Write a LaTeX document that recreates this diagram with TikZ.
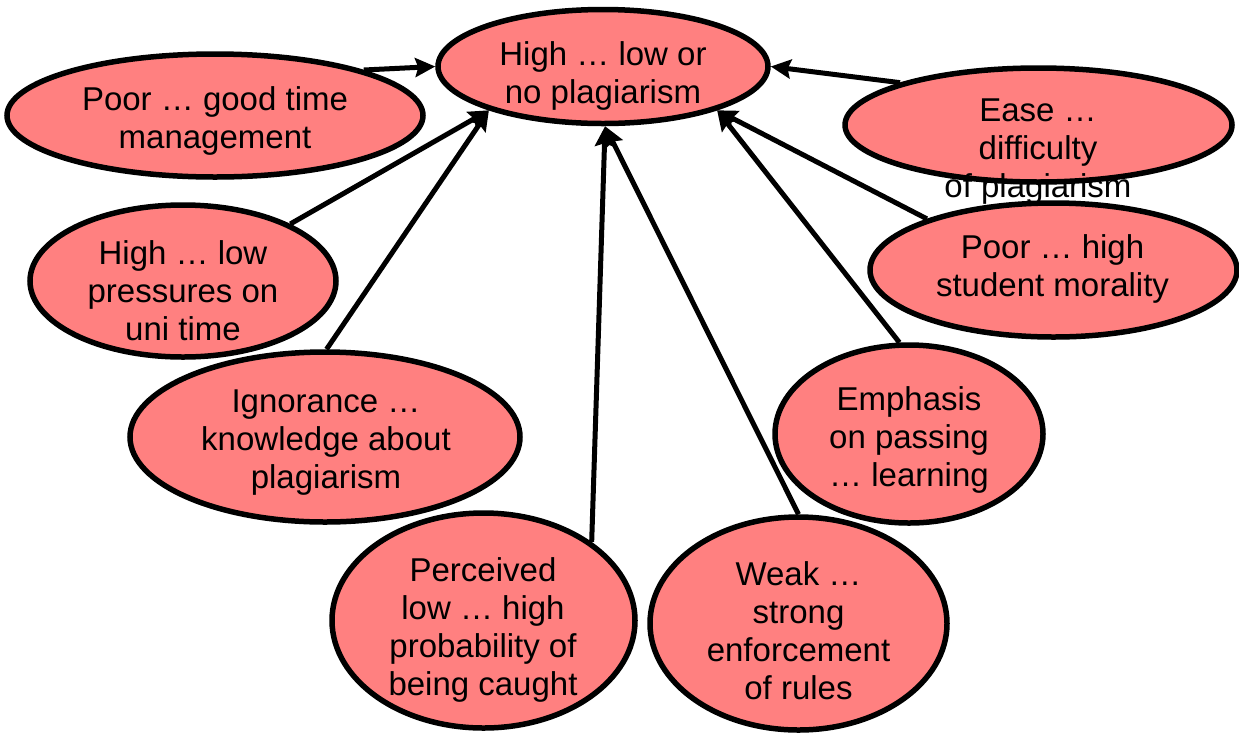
\documentclass[tikz,border=0pt]{standalone}
\usepackage{fontspec}
\setmainfont{Liberation Sans}
\usetikzlibrary{shapes.geometric,arrows.meta}
\definecolor{blobfill}{RGB}{255,128,128}
\begin{document}
\begin{tikzpicture}[x=1pt,y=-1pt,
  blob/.style={ellipse,draw=black,line width=5.5pt,fill=blobfill,inner sep=0pt},
  txt/.style={align=center,inner sep=0pt,font=\fontsize{33}{38}\selectfont},
  link/.style={line width=5pt,-{Stealth[length=20pt,width=19pt,inset=3pt]}}]
\useasboundingbox (0,0) rectangle (1239,732);

% central outcome
\node[blob,minimum width=330pt,minimum height=114pt] (out) at (603,66.5) {};
\node[txt] (out-t) at (603,75.5) {High … low or\\no plagiarism};

% left-hand factors
\node[blob,minimum width=416pt,minimum height=123pt] (time) at (215,115.5) {};
\node[txt] (time-t) at (215,121) {Poor … good time\\management};

\node[blob,minimum width=306pt,minimum height=152pt] (press) at (183,281) {};
\node[txt] (press-t) at (183,291) {High … low\\pressures on\\uni time};

\node[blob,minimum width=390pt,minimum height=170pt] (know) at (325,437) {};
\node[txt] (know-t) at (326,443) {Ignorance …\\knowledge about\\plagiarism};

% bottom factors
\node[blob,minimum width=303pt,minimum height=215pt] (caught) at (483.5,620.5) {};
\node[txt] (caught-t) at (483,630) {Perceived\\low … high\\probability of\\being caught};

\node[blob,minimum width=297pt,minimum height=213pt] (rules) at (798.5,623.5) {};
\node[txt] (rules-t) at (798.5,631) {Weak …\\strong\\enforcement\\of rules};

% right-hand factors
\node[blob,minimum width=268pt,minimum height=178pt] (pass) at (909,434) {};
\node[txt] (pass-t) at (909,440) {Emphasis\\on passing\\… learning};

\node[blob,minimum width=387pt,minimum height=114pt] (ease) at (1038.5,125) {};
\node[txt] (ease-t) at (1038,152) {Ease …\\difficulty\\of plagiarism};

\node[blob,minimum width=367pt,minimum height=134pt] (moral) at (1053.5,270) {};
\node[txt] (moral-t) at (1052.5,269) {Poor … high\\student morality};

% influences on the outcome
\draw[link] (time.17) -- (out.180);
\draw[link] (press.28.5) -- (out.201);
\draw[link] (know.89) -- (out.201);
\draw[link] (caught.36) -- (out.272);
\draw[link] (rules.90) -- (out.272);
\draw[link] (pass.96) -- (out.339);
\draw[link] (moral.158) -- (out.339);
\draw[link] (ease.163) -- (out.0);
\end{tikzpicture}
\end{document}
